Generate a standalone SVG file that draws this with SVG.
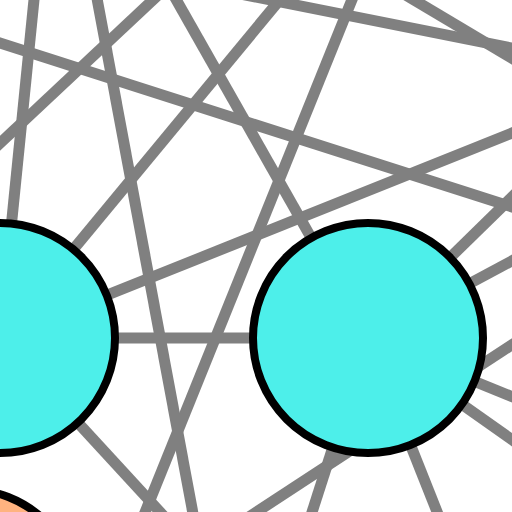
<svg xmlns="http://www.w3.org/2000/svg" width="512" height="512" viewBox="0 0 512 512">
<style>
.e{stroke:#808080;stroke-width:11;fill:none}
.n{stroke:#000;stroke-width:8}
.c{fill:#4DEFEA}
.o{fill:#FFB380}
</style>
<rect width="512" height="512" fill="#fff"/>
<g id="edges">
<line class="e" x1="0" y1="338" x2="39" y2="-50"/>
<line class="e" x1="88" y1="-50" x2="202" y2="562"/>
<line class="e" x1="-50" y1="27" x2="562" y2="223"/>
<line class="e" x1="-50" y1="190" x2="203" y2="-47"/>
<line class="e" x1="0" y1="338" x2="321" y2="-50"/>
<line class="e" x1="368" y1="338" x2="148" y2="-50"/>
<line class="e" x1="0" y1="338" x2="562" y2="113"/>
<line class="e" x1="200" y1="-14" x2="562" y2="58"/>
<line class="e" x1="330" y1="-50" x2="562" y2="88"/>
<line class="e" x1="372" y1="-50" x2="125" y2="562"/>
<line class="e" x1="368" y1="338" x2="562" y2="148"/>
<line class="e" x1="368" y1="338" x2="562" y2="234"/>
<line class="e" x1="200" y1="549" x2="562" y2="312"/>
<line class="e" x1="368" y1="338" x2="562" y2="417"/>
<line class="e" x1="368" y1="338" x2="562" y2="475"/>
<line class="e" x1="368" y1="338" x2="457" y2="562"/>
<line class="e" x1="368" y1="338" x2="296" y2="562"/>
<line class="e" x1="0" y1="338" x2="206" y2="562"/>
<line class="e" x1="0" y1="338" x2="368" y2="338"/>
</g>
<g id="node1"><circle class="n c" cx="0" cy="338" r="115"/></g>
<g id="node2"><circle class="n c" cx="368" cy="338" r="115"/></g>
<g id="node3"><circle class="n o" cx="-34" cy="604" r="115"/></g>
</svg>
